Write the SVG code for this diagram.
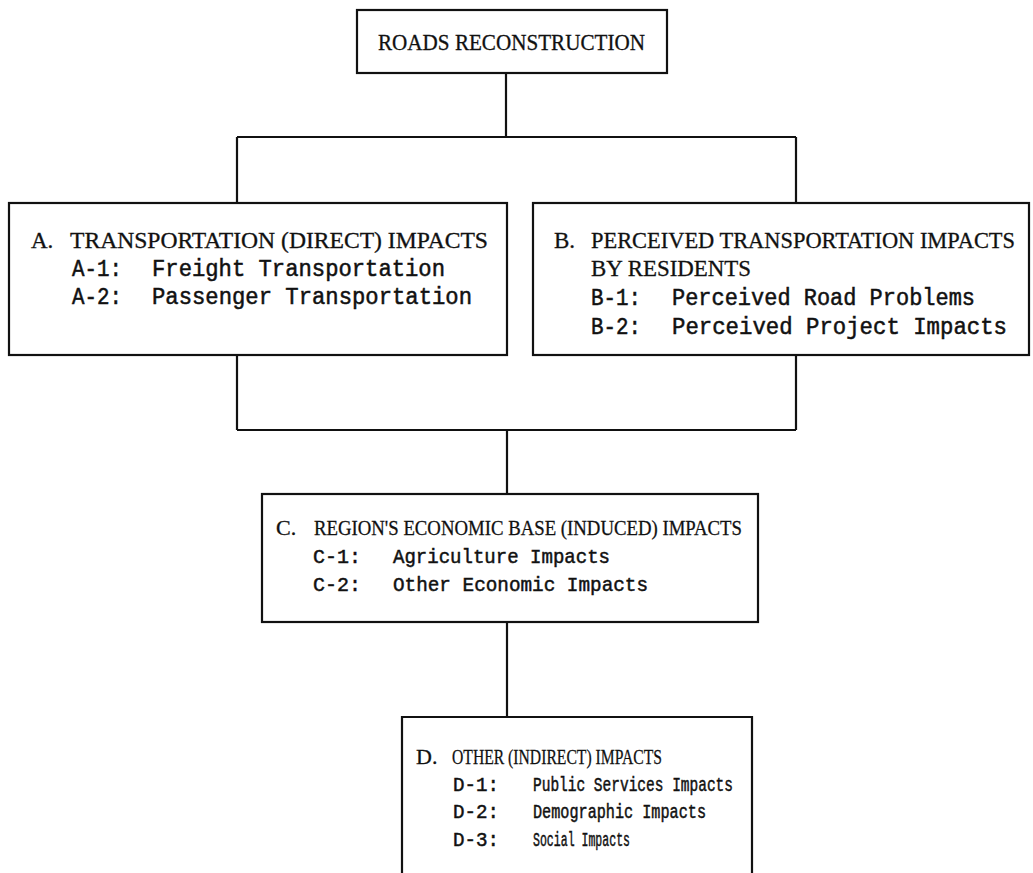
<svg xmlns="http://www.w3.org/2000/svg" width="1033" height="873" viewBox="0 0 1033 873">
<style>
.box{fill:#fff;stroke:#111;stroke-width:2.2}
.ln{fill:none;stroke:#111;stroke-width:2.2}
.h{font-family:"Liberation Serif",serif;font-size:23px;fill:#111;stroke:#111;stroke-width:0.3}
.m{font-family:"Liberation Mono",monospace;font-size:23px;fill:#111;stroke:#111;stroke-width:0.5}
.hb{font-size:22.5px}
.hc{font-size:22px}
.mc{font-size:21px}
.hd{font-size:22px}
.md{font-size:20px}
</style>
<rect width="1033" height="873" fill="#fff"/>
<g id="connectors">
<path class="ln" d="M506 73V137M237 137H796M237 137V203M796 137V203"/>
<path class="ln" d="M237 355V430M796 355V430M237 430H796M507 430V494"/>
<path class="ln" d="M507 622V717"/>
</g>
<g id="roads">
<rect class="box" x="357" y="10" width="310" height="63"/>
<text class="h" x="378" y="50" textLength="267" lengthAdjust="spacingAndGlyphs">ROADS RECONSTRUCTION</text>
</g>
<g id="nodeA">
<rect class="box" x="9" y="203" width="498" height="152"/>
<text class="h" x="31" y="248">A.</text>
<text class="h" x="70" y="248" textLength="418" lengthAdjust="spacingAndGlyphs">TRANSPORTATION (DIRECT) IMPACTS</text>
<text class="m" x="72" y="276" textLength="50" lengthAdjust="spacingAndGlyphs">A-1:</text>
<text class="m" x="152" y="276" textLength="293" lengthAdjust="spacingAndGlyphs">Freight Transportation</text>
<text class="m" x="72" y="304" textLength="50" lengthAdjust="spacingAndGlyphs">A-2:</text>
<text class="m" x="152" y="304" textLength="320" lengthAdjust="spacingAndGlyphs">Passenger Transportation</text>
</g>
<g id="nodeB">
<rect class="box" x="533" y="203" width="496" height="152"/>
<text class="h" x="554" y="248">B.</text>
<text class="h hb" x="591" y="248" textLength="424" lengthAdjust="spacingAndGlyphs">PERCEIVED TRANSPORTATION IMPACTS</text>
<text class="h" x="591" y="276" textLength="160" lengthAdjust="spacingAndGlyphs">BY RESIDENTS</text>
<text class="m" x="591" y="305" textLength="50" lengthAdjust="spacingAndGlyphs">B-1:</text>
<text class="m" x="672" y="305" textLength="303" lengthAdjust="spacingAndGlyphs">Perceived Road Problems</text>
<text class="m" x="591" y="334" textLength="50" lengthAdjust="spacingAndGlyphs">B-2:</text>
<text class="m" x="672" y="334" textLength="335" lengthAdjust="spacingAndGlyphs">Perceived Project Impacts</text>
</g>
<g id="nodeC">
<rect class="box" x="262" y="494" width="496" height="128"/>
<text class="h hc" x="276" y="535">C.</text>
<text class="h hc" x="314" y="535" textLength="428" lengthAdjust="spacingAndGlyphs">REGION'S ECONOMIC BASE (INDUCED) IMPACTS</text>
<text class="m mc" x="313" y="563" textLength="48" lengthAdjust="spacingAndGlyphs">C-1:</text>
<text class="m mc" x="393" y="563" textLength="217" lengthAdjust="spacingAndGlyphs">Agriculture Impacts</text>
<text class="m mc" x="313" y="591" textLength="48" lengthAdjust="spacingAndGlyphs">C-2:</text>
<text class="m mc" x="393" y="591" textLength="255" lengthAdjust="spacingAndGlyphs">Other Economic Impacts</text>
</g>
<g id="nodeD">
<path class="box" d="M402 880V717H752V880"/>
<text class="h hd" x="416" y="764">D.</text>
<text class="h hd" x="452" y="764" textLength="210" lengthAdjust="spacingAndGlyphs">OTHER (INDIRECT) IMPACTS</text>
<text class="m md" x="453" y="791" textLength="46" lengthAdjust="spacingAndGlyphs">D-1:</text>
<text class="m md" x="533" y="791" textLength="200" lengthAdjust="spacingAndGlyphs">Public Services Impacts</text>
<text class="m md" x="453" y="818" textLength="46" lengthAdjust="spacingAndGlyphs">D-2:</text>
<text class="m md" x="533" y="818" textLength="173" lengthAdjust="spacingAndGlyphs">Demographic Impacts</text>
<text class="m md" x="453" y="846" textLength="46" lengthAdjust="spacingAndGlyphs">D-3:</text>
<text class="m md" x="533" y="846" textLength="97" lengthAdjust="spacingAndGlyphs">Social Impacts</text>
</g>
</svg>
